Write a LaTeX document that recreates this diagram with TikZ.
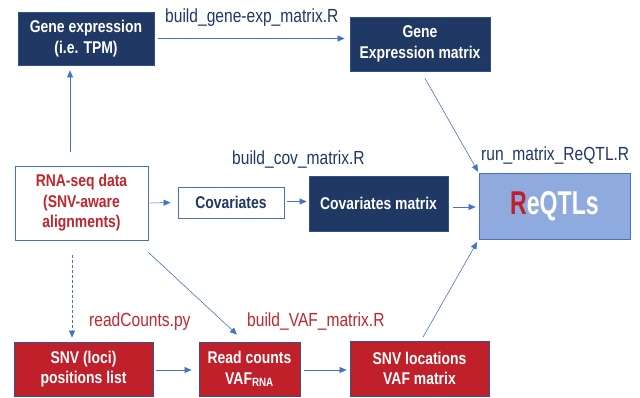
\documentclass[tikz,border=0pt]{standalone}
\usepackage{fontspec}
\setmainfont{Liberation Sans}[FakeStretch=0.82]
\newfontfamily\bigfont{Liberation Sans}[FakeStretch=0.7]
\usetikzlibrary{arrows.meta,calc}
\definecolor{navy}{HTML}{1F3864}
\definecolor{boxred}{HTML}{C0202A}
\definecolor{txtred}{HTML}{C0272D}
\definecolor{edgeblue}{HTML}{4472C4}
\definecolor{lightblue}{HTML}{8FAADC}
\definecolor{darkedge}{HTML}{2F528F}
\begin{document}
\begin{tikzpicture}[x=1pt,y=-1pt,
  basebox/.style={rectangle, inner sep=0pt, align=center, line width=0.8pt,
    font=\bfseries\fontsize{17}{20.5}\selectfont},
  navybox/.style={basebox, fill=navy, draw=darkedge, text=white},
  redbox/.style={basebox, fill=boxred, draw=darkedge, text=white},
  whitebox/.style={basebox, fill=white, draw=edgeblue},
  arr/.style={draw=edgeblue, line width=0.6pt, -{Triangle[length=7pt,width=6pt]}},
  lbl/.style={font=\fontsize{19}{22}\selectfont, anchor=base west, inner sep=0pt}
]
\useasboundingbox (0,0) rectangle (640,398);

% nodes
\node[navybox, minimum width=136pt, minimum height=53pt] (gexp) at (86,38.5) {Gene expression\\(i.e. TPM)};
\node[navybox, minimum width=140pt, minimum height=54pt] (gem) at (420,44) {Gene\\Expression matrix};
\node[whitebox, text=txtred, minimum width=133pt, minimum height=74pt] (rna) at (81.5,203) {RNA-seq data\\(SNV-aware\\alignments)};
\node[whitebox, text=navy, minimum width=106pt, minimum height=31pt] (cov) at (231,202.5) {Covariates};
\node[navybox, minimum width=139pt, minimum height=55pt] (covm) at (378.5,203.5) {Covariates matrix};
\node[basebox, fill=lightblue, draw=edgeblue, text=white, minimum width=151pt, minimum height=66pt,
  font=\bigfont\bfseries\fontsize{33}{36}\selectfont] (reqtl) at (554.5,206) {\textcolor{boxred}{R}eQTLs};
\node[redbox, minimum width=139pt, minimum height=54pt] (snv) at (83.5,369) {SNV (loci)\\positions list};
\node[redbox, minimum width=101pt, minimum height=54pt] (readc) at (249.5,369) {Read counts\\VAF\textsubscript{\fontsize{12}{12}\selectfont RNA}};
\node[redbox, minimum width=139pt, minimum height=55pt] (snvloc) at (419.5,368.5) {SNV locations\\VAF matrix};

% labels
\node[lbl, text=navy] (l1) at (165,22.5) {build\_gene-exp\_matrix.R};
\node[lbl, text=navy] (l2) at (232,165) {build\_cov\_matrix.R};
\node[lbl, text=navy] (l3) at (481,160.5) {run\_matrix\_ReQTL.R};
\node[lbl, text=txtred] (l4) at (89,326) {readCounts.py};
\node[lbl, text=txtred] (l5) at (247,326) {build\_VAF\_matrix.R};

% connectors
\coordinate (cx) at (70,0);
\coordinate (dx) at (72,0);
\draw[arr, shorten <=14pt, shorten >=5pt] (rna.north -| cx) -- (gexp.south -| cx);
\draw[arr, shorten <=4pt, shorten >=5pt] (gexp.east) -- (gexp.east -| gem.west);
\draw[arr, shorten <=2pt, shorten >=7pt] (rna.east) -- (cov.west);
\draw[arr, shorten <=3pt, shorten >=2pt] ([yshift=1pt]cov.east) -- ([yshift=1pt]cov.east -| covm.west);
\draw[arr, shorten <=5pt, shorten >=3pt] ([yshift=-3.5pt]covm.east) -- ([yshift=-3.5pt]covm.east -| reqtl.west);
\draw[arr, shorten <=8pt, shorten >=1pt] ([xshift=1pt]gem.south) -- (reqtl.north west);
\draw[arr, shorten <=4pt, shorten >=3pt] ([xshift=1.5pt]snvloc.north) -- (reqtl.south west);
\draw[arr] ([yshift=-12pt]rna.south east) -- ([xshift=-12.5pt,yshift=7pt]readc.north);
\draw[arr, dash pattern=on 3pt off 2pt, shorten <=15pt, shorten >=4pt] (rna.south -| dx) -- (snv.north -| dx);
\draw[arr, shorten <=3pt, shorten >=7pt] ([yshift=-1pt]snv.east) -- ([yshift=-1pt]snv.east -| readc.west);
\draw[arr, shorten <=4pt, shorten >=3pt] ([yshift=-1pt]readc.east) -- ([yshift=-1pt]readc.east -| snvloc.west);
\end{tikzpicture}
\end{document}
